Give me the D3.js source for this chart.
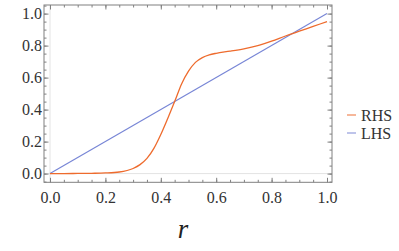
<!DOCTYPE html>
<html>
<head>
<meta charset="utf-8">
<script src="https://cdn.jsdelivr.net/npm/d3@7"></script>
<style>
  body { margin: 0; background: #fff; }
</style>
</head>
<body>
<div id="canvas"></div>
<script>
// data
const rhsR = [0, 0.05, 0.1, 0.15, 0.2, 0.25, 0.3, 0.325, 0.35, 0.375, 0.4, 0.425, 0.45, 0.475,
  0.5, 0.525, 0.55, 0.575, 0.6, 0.65, 0.7, 0.75, 0.8, 0.85, 0.9, 0.95, 1.0];
const rhsV = [0.000, 0.000, 0.001, 0.002, 0.004, 0.010, 0.032, 0.056, 0.095, 0.158, 0.245, 0.345,
  0.450, 0.560, 0.640, 0.695, 0.725, 0.742, 0.752, 0.765, 0.780, 0.800, 0.828, 0.860, 0.890, 0.920, 0.950];
const lhsR = [0, 1];
const lhsV = [0, 1];
const seriesNames = ['RHS', 'LHS'];
const xTicks = [0, 0.2, 0.4, 0.6, 0.8, 1.0];
const yTicks = [0, 0.2, 0.4, 0.6, 0.8, 1.0];

const width = 399;
const height = 251;
const colors = ['#ee6b2d', '#7886d6'];
const serif = "'Liberation Serif', 'DejaVu Serif', serif";

// frame box
const frameL = 44, frameR = 332, frameT = 5, frameB = 182.3;

const x = d3.scaleLinear().domain([0, 1]).range([50, 327]);
const y = d3.scaleLinear().domain([0, 1]).range([173.6, 13.6]);

const minorX = d3.range(0, 1.0001, 0.05);
const minorY = d3.range(-0.05, 1.0501, 0.05);

const svg = d3.select('#canvas').append('svg')
  .attr('width', width).attr('height', height)
  .style('font-family', serif);

// light axes lines at 0
svg.append('line')
  .attr('x1', frameL).attr('x2', frameR)
  .attr('y1', y(0)).attr('y2', y(0))
  .attr('stroke', '#e3e3e3').attr('stroke-width', 1);
svg.append('line')
  .attr('x1', x(0)).attr('x2', x(0))
  .attr('y1', frameT).attr('y2', frameB)
  .attr('stroke', '#e3e3e3').attr('stroke-width', 1);

function styleAxis(g) {
  g.attr('font-family', serif).attr('font-size', 16);
  g.select('.domain').remove();
  g.selectAll('.tick line').attr('stroke', '#808080');
  g.selectAll('.tick text').attr('fill', '#333');
}

// bottom
svg.append('g').attr('transform', `translate(0,${frameB})`)
  .call(d3.axisBottom(x).tickValues(minorX).tickSize(-2.5).tickFormat(''))
  .call(styleAxis);
svg.append('g').attr('transform', `translate(0,${frameB})`)
  .call(d3.axisBottom(x).tickValues(xTicks).tickSize(-4.5).tickPadding(9.3).tickFormat(d3.format('.1f')))
  .call(styleAxis);
// top
svg.append('g').attr('transform', `translate(0,${frameT})`)
  .call(d3.axisTop(x).tickValues(minorX).tickSize(-2.5).tickFormat(''))
  .call(styleAxis);
svg.append('g').attr('transform', `translate(0,${frameT})`)
  .call(d3.axisTop(x).tickValues(xTicks).tickSize(-4.5).tickFormat(''))
  .call(styleAxis);
// left
svg.append('g').attr('transform', `translate(${frameL},0)`)
  .call(d3.axisLeft(y).tickValues(minorY).tickSize(-2.5).tickFormat(''))
  .call(styleAxis);
svg.append('g').attr('transform', `translate(${frameL},0)`)
  .call(d3.axisLeft(y).tickValues(yTicks).tickSize(-4.5).tickPadding(2).tickFormat(d3.format('.1f')))
  .call(styleAxis);
// right
svg.append('g').attr('transform', `translate(${frameR},0)`)
  .call(d3.axisRight(y).tickValues(minorY).tickSize(-2.5).tickFormat(''))
  .call(styleAxis);
svg.append('g').attr('transform', `translate(${frameR},0)`)
  .call(d3.axisRight(y).tickValues(yTicks).tickSize(-4.5).tickFormat(''))
  .call(styleAxis);

// frame
svg.append('rect')
  .attr('x', frameL).attr('y', frameT)
  .attr('width', frameR - frameL).attr('height', frameB - frameT)
  .attr('fill', 'none').attr('stroke', '#808080').attr('stroke-width', 1);

// curves
const line = d3.line()
  .x(d => x(d[0]))
  .y(d => y(d[1]))
  .curve(d3.curveMonotoneX);

svg.append('path')
  .datum(lhsR.map((r, i) => [r, lhsV[i]]))
  .attr('d', line)
  .attr('fill', 'none').attr('stroke', colors[1]).attr('stroke-width', 1.2);
svg.append('path')
  .datum(rhsR.map((r, i) => [r, rhsV[i]]))
  .attr('d', line)
  .attr('fill', 'none').attr('stroke', colors[0]).attr('stroke-width', 1.3);

// legend
const legend = svg.append('g').attr('transform', 'translate(347,115)');
seriesNames.forEach((name, i) => {
  const g = legend.append('g').attr('transform', `translate(0,${i * 18})`);
  g.append('line')
    .attr('x1', 0).attr('x2', 9).attr('y1', 0).attr('y2', 0)
    .attr('stroke', colors[i]).attr('stroke-width', 1.2).attr('opacity', 0.8);
  g.append('text')
    .attr('x', 14).attr('y', 0).attr('dy', '0.35em')
    .attr('font-family', serif).attr('font-size', 16).attr('fill', '#333')
    .text(name);
});

// x label
svg.append('text')
  .attr('x', 183).attr('y', 238)
  .attr('text-anchor', 'middle')
  .attr('font-family', serif).attr('font-size', 27).attr('font-style', 'italic').attr('fill', '#222')
  .text('r');
</script>
</body>
</html>
